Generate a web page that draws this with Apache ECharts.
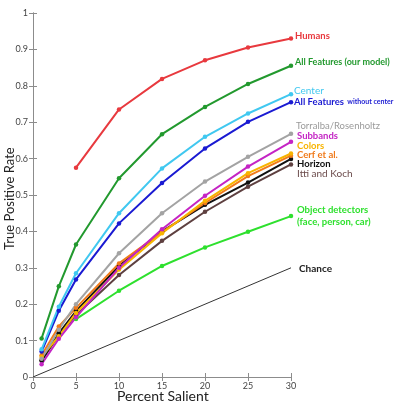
<!DOCTYPE html>
<html>
<head>
<meta charset="utf-8">
<script src="https://cdn.jsdelivr.net/npm/echarts@6/dist/echarts.min.js"></script>
<style>
html, body { margin: 0; padding: 0; background: #fff; }
#chart { width: 395px; height: 402px; }
</style>
</head>
<body>
<div id="chart"></div>
<script>
// percent salient sample points
const percents = [1, 3, 5, 10, 15, 20, 25, 30];
const percentsFrom5 = [5, 10, 15, 20, 25, 30];

const humans = [0.575, 0.735, 0.819, 0.870, 0.905, 0.930];
const allFeatures = [0.106, 0.249, 0.364, 0.546, 0.667, 0.742, 0.805, 0.855];
const center = [0.076, 0.193, 0.285, 0.450, 0.573, 0.660, 0.724, 0.777];
const allNoCenter = [0.070, 0.182, 0.268, 0.422, 0.533, 0.628, 0.701, 0.755];
const torralba = [0.050, 0.130, 0.200, 0.340, 0.450, 0.537, 0.605, 0.668];
const subbands = [0.035, 0.105, 0.164, 0.300, 0.406, 0.498, 0.578, 0.646];
const colorsFeat = [0.055, 0.112, 0.176, 0.295, 0.395, 0.484, 0.560, 0.614];
const cerf = [0.060, 0.139, 0.190, 0.312, 0.398, 0.478, 0.552, 0.608];
const horizon = [0.045, 0.120, 0.181, 0.305, 0.400, 0.473, 0.534, 0.599];
const ittiKoch = [0.045, 0.115, 0.170, 0.280, 0.374, 0.454, 0.523, 0.584];
const objectDet = [0.159, 0.237, 0.305, 0.356, 0.399, 0.442];
const chanceX = [0, 30];
const chance = [0, 0.3];

function pairs(xs, ys) {
    return xs.map((x, i) => [x, ys[i]]);
}

function line(name, xs, ys, color, showSymbol) {
    return {
        name: name,
        type: 'line',
        data: pairs(xs, ys),
        symbol: showSymbol === false ? 'none' : 'circle',
        symbolSize: 4.5,
        lineStyle: { color: color, width: showSymbol === false ? 1 : 2 },
        itemStyle: { color: color },
        z: 3,
        animation: false
    };
}

const font = 'Lato, "Open Sans", sans-serif';

function label(text, x, y, color, size, weight) {
    return {
        type: 'text',
        left: x,
        top: y - 6,
        style: {
            text: text,
            fill: color,
            font: (weight || 'bold') + ' ' + (size || 9.5) + 'px ' + font
        }
    };
}

const chart = echarts.init(document.getElementById('chart'));

const axisCol = '#8c8c8c';

chart.setOption({
    backgroundColor: '#fff',
    animation: false,
    grid: { left: 33, right: 104, top: 13, bottom: 25 },
    xAxis: [{
        type: 'value',
        min: 0, max: 30, interval: 5,
        axisLine: { lineStyle: { color: axisCol } },
        axisTick: { inside: true, length: 4, lineStyle: { color: axisCol } },
        axisLabel: { fontFamily: font, fontSize: 9, color: '#444', margin: 5 },
        splitLine: { show: false }
    }, {
        type: 'value',
        position: 'top',
        min: 0, max: 30, interval: 5,
        axisLine: { show: true, lineStyle: { color: axisCol } },
        axisTick: { show: true, inside: true, length: 4, lineStyle: { color: axisCol } },
        axisLabel: { show: false },
        splitLine: { show: false }
    }],
    yAxis: [{
        type: 'value',
        min: 0, max: 1, interval: 0.1,
        axisLine: { show: true, lineStyle: { color: axisCol } },
        axisTick: { show: true, inside: true, length: 4, lineStyle: { color: axisCol } },
        axisLabel: {
            fontFamily: font, fontSize: 9, color: '#444', margin: 5,
            formatter: v => (v === 0 || v === 1) ? String(v) : v.toFixed(1)
        },
        splitLine: { show: false }
    }, {
        type: 'value',
        position: 'right',
        min: 0, max: 1, interval: 0.1,
        axisLine: { show: true, lineStyle: { color: axisCol } },
        axisTick: { show: true, inside: true, length: 4, lineStyle: { color: axisCol } },
        axisLabel: { show: false },
        splitLine: { show: false }
    }],
    series: [
        line('Chance', chanceX, chance, '#333333', false),
        line('Object detectors', percentsFrom5, objectDet, '#2ee02e'),
        line('Itti and Koch', percents, ittiKoch, '#5e4040'),
        line('Horizon', percents, horizon, '#111111'),
        line('Cerf et al.', percents, cerf, '#f07a1a'),
        line('Colors', percents, colorsFeat, '#f8b400'),
        line('Subbands', percents, subbands, '#c424c4'),
        line('Torralba/Rosenholtz', percents, torralba, '#a3a3a3'),
        line('All Features without center', percents, allNoCenter, '#1a1ad2'),
        line('Center', percents, center, '#40c8f0'),
        line('All Features', percents, allFeatures, '#22992e'),
        line('Humans', percentsFrom5, humans, '#e8393e')
    ],
    graphic: [
        {
            type: 'text', left: 162 - 45, top: 389,
            style: { text: 'Percent Salient', fill: '#222', font: '14px ' + font }
        },
        {
            type: 'text', x: 3, y: 250, rotation: Math.PI / 2,
            style: { text: 'True Positive Rate', fill: '#222', font: '13px ' + font }
        },
        label('Humans', 295, 37, '#e8393e'),
        label('All Features (our model)', 295, 64, '#22992e', 9),
        label('Center', 294, 92, '#40c8f0', 10, 'normal'),
        {
            type: 'text', left: 294, top: 96,
            style: {
                text: '{a|All Features} {b|without center}',
                rich: {
                    a: { fill: '#1a1ad2', font: 'bold 9.5px ' + font },
                    b: { fill: '#1a1ad2', font: 'bold 7px ' + font }
                }
            }
        },
        label('Torralba/Rosenholtz', 296, 127, '#9a9a9a', 9.5, 'normal'),
        label('Subbands', 297, 137, '#c424c4'),
        label('Colors', 297, 147, '#f8b400'),
        label('Cerf et al.', 297, 156, '#f07a1a'),
        label('Horizon', 297, 165, '#111111'),
        label('Itti and Koch', 297, 175, '#6a4a4a', 10, 'normal'),
        label('Object detectors', 297, 211, '#2ee02e'),
        label('(face, person, car)', 297, 223, '#2ee02e'),
        label('Chance', 299, 270, '#222222', 10, 'bold')
    ]
});
</script>
</body>
</html>
